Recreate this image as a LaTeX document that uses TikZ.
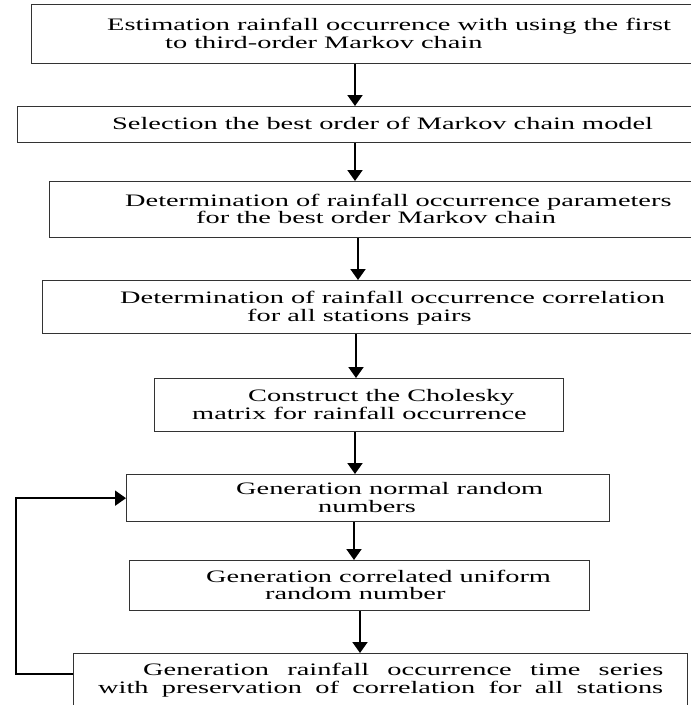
\documentclass[tikz,border=0pt]{standalone}
\usepackage{fontspec}
\setmainfont{Liberation Serif}[FakeStretch=1.62]
\usetikzlibrary{arrows.meta}

\begin{document}
\begin{tikzpicture}[x=1pt, y=-1pt,
    box/.style={draw=black!80, line width=1.3pt, inner sep=0pt, anchor=north west},
    txt/.style={anchor=base west, inner sep=0pt, font=\fontsize{17.5}{17.5}\selectfont},
    flow/.style={line width=2pt, -{Triangle[width=15pt,length=11pt]}}]
            \useasboundingbox (0,0) rectangle (691,705);
            \clip (0,0) rectangle (691,705);
            % boxes
            \node[box, minimum width=669pt, minimum height=59pt] (b1) at (31,4) {};
            \node[box, minimum width=683pt, minimum height=36pt] (b2) at (17,106) {};
            \node[box, minimum width=651pt, minimum height=56pt] (b3) at (49,181) {};
            \node[box, minimum width=658pt, minimum height=53pt] (b4) at (42,280) {};
            \node[box, minimum width=409pt, minimum height=53pt] (b5) at (154,378) {};
            \node[box, minimum width=483pt, minimum height=47pt] (b6) at (126,474) {};
            \node[box, minimum width=460pt, minimum height=50pt] (b7) at (129,560) {};
            \node[box, minimum width=614pt, minimum height=70pt] (b8) at (73,653) {};
            % texts
            \node[txt] (t1a) at (107,30.5) {Estimation rainfall occurrence with using the first};
            \node[txt] (t1b) at (165,48) {to third-order Markov chain};
            \node[txt] (t2) at (112,129.5) {Selection the best order of Markov chain model};
            \node[txt] (t3a) at (125,206) {Determination of rainfall occurrence parameters};
            \node[txt] (t3b) at (196,223.5) {for the best order Markov chain};
            \node[txt] (t4a) at (120,303.5) {Determination of rainfall occurrence correlation};
            \node[txt] (t4b) at (247,321) {for all stations pairs};
            \node[txt] (t5a) at (248,401.5) {Construct the Cholesky};
            \node[txt] (t5b) at (192,419) {matrix for rainfall occurrence};
            \node[txt] (t6a) at (236,494.5) {Generation normal random};
            \node[txt] (t6b) at (318,512) {numbers};
            \node[txt] (t7a) at (206,582) {Generation correlated uniform};
            \node[txt] (t7b) at (265,599.5) {random number};
            \node[txt] (t8a) at (143,675) {\makebox[520pt][s]{Generation rainfall occurrence time series}};
            \node[txt] (t8b) at (98,693) {\makebox[565pt][s]{with preservation of correlation for all stations}};
            % arrows
            \draw[flow] (b1.south -| 355,0) -- (b2.north -| 355,0);
            \draw[flow] (b2.south -| 355,0) -- (b3.north -| 355,0);
            \draw[flow] (b3.south -| 358,0) -- (b4.north -| 358,0);
            \draw[flow] (b4.south -| 356,0) -- (b5.north -| 356,0);
            \draw[flow] (b5.south -| 355,0) -- (b6.north -| 355,0);
            \draw[flow] (b6.south -| 354,0) -- (b7.north -| 354,0);
            \draw[flow] (b7.south -| 360,0) -- (b8.north -| 360,0);
            % loop back
            \draw[flow] ([yshift=-21pt]b8.north west) -- ++(-57,0) |- (b6.west);
        \end{tikzpicture}
\end{document}
